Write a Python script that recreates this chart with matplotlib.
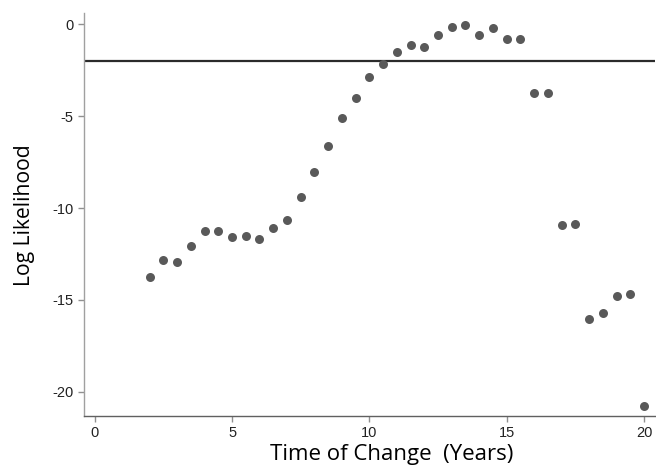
import numpy as np
import matplotlib.pyplot as plt

# time of change (years) and log likelihood
years = [2, 2.5, 3, 3.5, 4, 4.5, 5, 5.5, 6, 6.5, 7, 7.5, 8, 8.5, 9, 9.5,
         10, 10.5, 11, 11.5, 12, 12.5, 13, 13.5, 14, 14.5, 15, 15.5,
         16, 16.5, 17, 17.5, 18, 18.5, 19, 19.5, 20]
loglik = [-13.73, -12.84, -12.95, -12.04, -11.26, -11.24, -11.55, -11.51,
          -11.66, -11.07, -10.64, -9.40, -8.01, -6.64, -5.10, -4.03,
          -2.85, -2.16, -1.51, -1.11, -1.22, -0.60, -0.15, -0.02, -0.56,
          -0.18, -0.80, -0.78, -3.74, -3.72, -10.91, -10.86, -16.03,
          -15.70, -14.76, -14.69, -20.77]
cutoff = -2
x_ticks = [0, 5, 10, 15, 20]
y_ticks = [0, -5, -10, -15, -20]

plt.rcParams['axes.unicode_minus'] = False

fig = plt.figure(figsize=(6.56, 4.68), dpi=100)
ax = fig.add_axes([0.128, 0.111, 0.8705, 0.8605])

ax.scatter(years, loglik, s=42, color='#595959', linewidths=0, zorder=3)
ax.axhline(cutoff, color='#2b2b2b', lw=1.6, zorder=2)

ax.set_xlim(-0.39, 20.4)
ax.set_ylim(-21.32, 0.6)
ax.set_xticks(x_ticks)
ax.set_yticks(y_ticks)

for s in ['top', 'right']:
    ax.spines[s].set_visible(False)
ax.spines['left'].set_color('#a0a0a0')
ax.spines['bottom'].set_color('#606060')
ax.spines['left'].set_linewidth(1.0)
ax.spines['bottom'].set_linewidth(1.0)
ax.tick_params(axis='both', colors='#909090', length=4.5, width=1.0,
               labelcolor='#222222', labelsize=10.5, pad=3)
for lab in ax.get_xticklabels() + ax.get_yticklabels():
    lab.set_fontfamily('Liberation Sans')

# x label sits right at the bottom edge, like the original
ax.set_xlabel('Time of Change  (Years)', fontfamily='Open Sans', fontsize=16)
ax.set_ylabel('Log Likelihood', fontfamily='Open Sans', fontsize=15.2)
ax.xaxis.set_label_coords(0.5385, -0.07)
ax.yaxis.set_label_coords(-0.086, 0.5)

plt.savefig("out.png", dpi=100)
